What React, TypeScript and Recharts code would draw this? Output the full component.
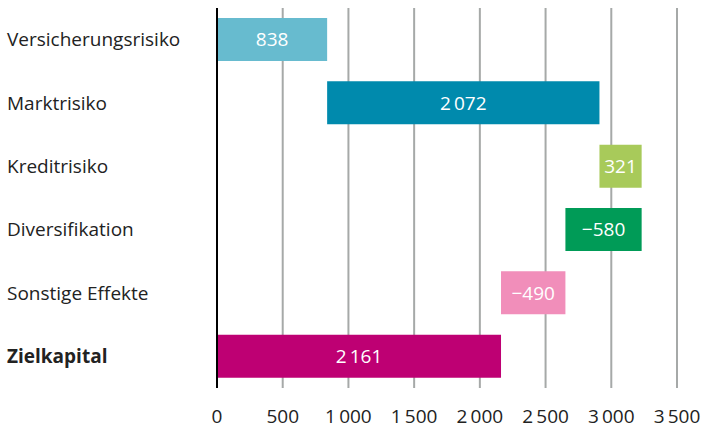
import React from 'react';
import {
  BarChart,
  Bar,
  XAxis,
  YAxis,
  CartesianGrid,
  Cell,
  LabelList,
} from 'recharts';

// waterfall rows: start point of each bar and its (signed) change
const categories = [
  'Versicherungsrisiko',
  'Marktrisiko',
  'Kreditrisiko',
  'Diversifikation',
  'Sonstige Effekte',
  'Zielkapital',
];
const changes = [838, 2072, 321, -580, -490, 2161];
const starts = [0, 838, 2910, 3231, 2651, 0];
const valueLabels = ['838', '2\u2009072', '321', '\u2212580', '\u2212490', '2\u2009161'];
const barColors = ['#67bbcf', '#008aad', '#a8ca5a', '#009b57', '#f18eba', '#be0073'];
const xTicks = [0, 500, 1000, 1500, 2000, 2500, 3000, 3500];

const FONT = '"Open Sans", "DejaVu Sans", sans-serif';

const data = categories.map((name, i) => {
  const end = starts[i] + changes[i];
  return {
    name,
    base: Math.min(starts[i], end),
    span: Math.abs(changes[i]),
    label: valueLabels[i],
  };
});

const fmtTick = (v: number) =>
  v >= 1000 ? `${Math.floor(v / 1000)}\u2009${String(v % 1000).padStart(3, '0')}` : String(v);

function CategoryTick(props: any) {
  const { y, payload } = props;
  const bold = payload.value === 'Zielkapital';
  return (
    <text
      x={7}
      y={y}
      dy="0.35em"
      textAnchor="start"
      fill="#222"
      fontSize={19}
      fontFamily={FONT}
      fontWeight={bold ? 700 : 400}
    >
      {payload.value}
    </text>
  );
}

export default function App() {
  return (
    <div style={{ position: 'absolute', left: 0, top: 0, width: 706, height: 428, background: '#fff' }}>
      <BarChart
        width={706}
        height={428}
        data={data}
        layout="vertical"
        barSize={43}
        margin={{ top: 8, right: 29, left: 0, bottom: 0 }}
      >
        <CartesianGrid horizontal={false} stroke="#a6a9a8" strokeWidth={2} />
        <XAxis
          type="number"
          domain={[0, 3500]}
          ticks={xTicks}
          tickFormatter={fmtTick}
          axisLine={false}
          tickLine={false}
          tickMargin={16}
          height={40}
          interval={0}
          tick={{ fontSize: 19, fill: '#222', fontFamily: FONT }}
        />
        <YAxis
          dataKey="name"
          type="category"
          width={217}
          axisLine={{ stroke: '#000', strokeWidth: 2 }}
          tickLine={false}
          tick={<CategoryTick />}
        />
        <Bar dataKey="base" stackId="w" fill="transparent" isAnimationActive={false} />
        <Bar dataKey="span" stackId="w" isAnimationActive={false}>
          {data.map((_, i) => (
            <Cell key={`c-${i}`} fill={barColors[i]} />
          ))}
          <LabelList
            dataKey="label"
            position="center"
            fill="#fff"
            fontSize={19}
            fontFamily={FONT}
          />
        </Bar>
      </BarChart>
    </div>
  );
}
